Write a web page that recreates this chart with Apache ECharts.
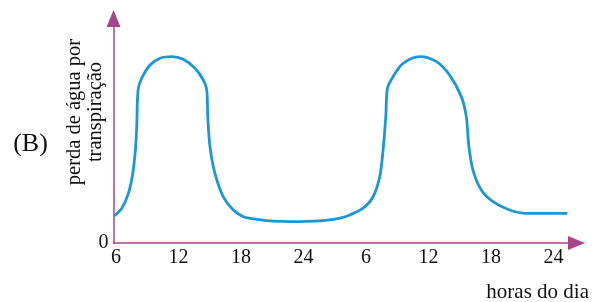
<!DOCTYPE html>
<html>
<head>
<meta charset="utf-8">
<script src="https://cdn.jsdelivr.net/npm/echarts@6/dist/echarts.min.js"></script>
<style>html,body{margin:0;padding:0;background:#fff}#c{width:595px;height:302px}</style>
</head>
<body>
<div id="c"></div>
<script>
// hours (continuous across two days) and relative transpiration water loss
const hours = [5.81, 6.55, 7.18, 7.6, 7.85, 7.98, 8.11, 8.46, 9.26, 10.22, 11.34, 12.45, 13.57, 14.37, 14.7, 14.8, 15.01, 15.49, 16.29, 17.25, 18.21, 18.85, 20.45, 22.0, 23.6, 25.0, 26.3, 27.5, 28.44, 29.71, 30.67, 31.31, 31.63, 31.89, 32.05, 32.59, 33.55, 35.15, 36.75, 38.02, 39.14, 39.62, 39.87, 40.26, 41.06, 42.18, 43.78, 45.38, 47.0, 49.33];
const perda = [12.0, 15.5, 22.1, 31.0, 41.4, 51.8, 68.2, 73.4, 79.3, 82.3, 83.0, 81.8, 77.8, 72.6, 68.2, 56.3, 42.9, 31.0, 20.6, 14.7, 11.7, 11.0, 10.0, 9.6, 9.5, 9.7, 10.2, 11.1, 12.5, 15.5, 20.6, 29.5, 41.4, 56.3, 68.9, 74.1, 80.0, 83.0, 80.8, 74.8, 65.2, 56.3, 42.9, 32.5, 23.6, 18.4, 14.7, 13.2, 13.2, 13.2];
const xTicks = [6, 12, 18, 24, 30, 36, 42, 48];
const xTickLabels = ['6', '12', '18', '24', '6', '12', '18', '24'];
const yTicks = [0];
const yTickLabels = ['0'];
const yTitle = 'perda de água por\ntranspiração';
const xTitle = 'horas do dia';
const panelLabel = '(B)';

const axisColor = '#a4478a';
const font = '"Liberation Serif", "Times New Roman", serif';

const chart = echarts.init(document.getElementById('c'), null, {renderer: 'canvas'});
chart.setOption({
  animation: false,
  backgroundColor: '#fff',
  grid: {left: 113.5, right: 18.5, top: 18.5, bottom: 59},
  xAxis: {
    type: 'value', min: 5.75, max: 50.2,
    splitLine: {show: false},
    axisLine: {show: true, symbol: ['none', 'triangle'], symbolSize: [14, 17], lineStyle: {color: axisColor, width: 1.5}},
    axisTick: {show: false},
    axisLabel: {
      customValues: xTicks, color: '#111', fontFamily: font, fontSize: 20, margin: 5,
      formatter: v => xTickLabels[xTicks.indexOf(Math.round(v))] ?? ''
    }
  },
  yAxis: {
    type: 'value', min: 0, max: 100,
    splitLine: {show: false},
    axisLine: {show: true, symbol: ['none', 'triangle'], symbolSize: [14, 17], lineStyle: {color: axisColor, width: 1.5}},
    axisTick: {show: false},
    axisLabel: {
      customValues: yTicks, color: '#111', fontFamily: font, fontSize: 20, margin: 5,
      verticalAlign: 'middle', padding: [0, 0, 9, 0],
      formatter: v => yTickLabels[yTicks.indexOf(v)] ?? ''
    }
  },
  series: [{
    type: 'line', data: hours.map((h, i) => [h, perda[i]]),
    showSymbol: false, smooth: 0.3,
    lineStyle: {color: '#1b97d8', width: 2.8}
  }],
  graphic: [
    {type: 'text', x: 85.5, y: 112, rotation: Math.PI / 2,
     style: {text: yTitle, font: '20.5px ' + font, fill: '#111', align: 'center', verticalAlign: 'middle', lineHeight: 21}},
    {type: 'text', x: 30.5, y: 144,
     style: {text: panelLabel, font: '26px ' + font, fill: '#111', align: 'center', verticalAlign: 'middle'}},
    {type: 'text', x: 589, y: 292,
     style: {text: xTitle, font: '21px ' + font, fill: '#111', align: 'right', verticalAlign: 'middle'}}
  ]
});
</script>
</body>
</html>
